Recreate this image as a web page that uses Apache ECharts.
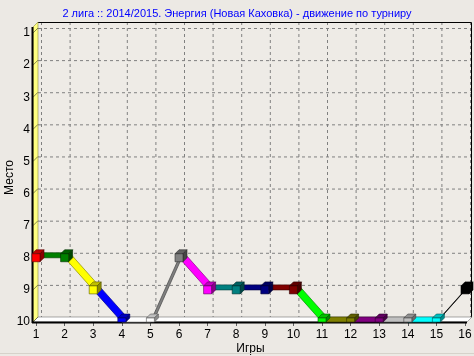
<!DOCTYPE html>
<html>
<head>
<meta charset="utf-8">
<script src="https://cdn.jsdelivr.net/npm/echarts@6/dist/echarts.min.js"></script>
<style>
html,body{margin:0;padding:0;background:#ECE9E4;}
#c{width:474px;height:356px;}
</style>
</head>
<body>
<div id="c"></div>
<script>
// ---- data ----
const games = [1,2,3,4,5,6,7,8,9,10,11,12,13,14,15,16];
const places = [8,8,9,10,10,8,9,9,9,9,10,10,10,10,10,9];
const yTicks = [1,2,3,4,5,6,7,8,9,10];
const pointColors = ['#FF0000','#008000','#FFFF00','#0000FF','#FFFFFF','#808080','#FF00FF','#008080',
                     '#000080','#800000','#00FF00','#808000','#800080','#C0C0C0','#00FFFF','#000000'];
const titleText = '2 лига :: 2014/2015. Энергия (Новая Каховка) - движение по турниру';

// ---- helpers ----
const D = [5,-5];   // 3D depth offset
function darken(hex, f){
  const n = parseInt(hex.slice(1),16);
  const r = Math.round(((n>>16)&255)*f), g = Math.round(((n>>8)&255)*f), b = Math.round((n&255)*f);
  return 'rgb('+r+','+g+','+b+')';
}

const segData = [];
for (let i = 0; i < games.length-1; i++) {
  segData.push([games[i], places[i], games[i+1], places[i+1], i+1]);
}
const ptData = games.map((g,i)=>[g, places[i], i]);

const chart = echarts.init(document.getElementById('c'), null, {renderer:'canvas'});

const option = {
  backgroundColor: '#ECE9E4',
  animation: false,
  title: {
    text: titleText, left: 'center', top: 3,
    textStyle: {color:'#0000FF', fontSize:11, fontWeight:'normal', fontFamily:'Liberation Sans'}
  },
  grid: {left:36, right:9, top:33, bottom:34, containLabel:false, outerBoundsMode:'none'},
  xAxis: {
    type:'value', min:1, max:16, interval:1,
    name:'Игры', nameLocation:'middle', nameGap:21, nameMoveOverlap:false,
    nameTextStyle:{color:'#000', fontSize:12, fontFamily:'Liberation Sans'},
    axisLine:{show:false},
    axisTick:{show:true, length:4, lineStyle:{color:'#606060'}},
    axisLabel:{color:'#000', fontSize:12, fontFamily:'Liberation Sans', margin:7},
    splitLine:{show:false}
  },
  yAxis: {
    type:'value', min:1, max:10, interval:1, inverse:true,
    name:'Место', nameLocation:'middle', nameGap:20, nameMoveOverlap:false,
    nameTextStyle:{color:'#000', fontSize:12, fontFamily:'Liberation Sans'},
    axisLine:{show:false}, axisTick:{show:false},
    axisLabel:{color:'#000', fontSize:12, fontFamily:'Liberation Sans', margin:6,
      formatter: v => yTicks.indexOf(v) >= 0 ? String(v) : ''},
    splitLine:{show:false}
  },
  series: [
    {
      // walls, floor and back grid (drawn once)
      type:'custom', silent:true, clip:false, z:1,
      data:[[1,1]],
      renderItem: function(params, api){
        const p11 = api.coord([1,1]), p16 = api.coord([16,10]);
        const L = p11[0]-3, R = p16[0]+2, T = p11[1]-6, B = p16[1];
        const dx = D[0], dy = D[1];
        const ch = [];
        // back wall
        ch.push({type:'rect', shape:{x:L+dx, y:T+dy, width:R-L, height:B-T}, style:{fill:'#EEEBE6'}});
        // dashed grid on back wall
        games.forEach(g=>{
          const x = api.coord([g,1])[0]+dx;
          ch.push({type:'line', shape:{x1:x+0.5,y1:T+dy,x2:x+0.5,y2:B+dy},
            style:{stroke:'#808080', lineWidth:1, lineDash:[3,3]}});
        });
        yTicks.forEach(v=>{
          const y = api.coord([1,v])[1]+dy;
          ch.push({type:'line', shape:{x1:L+dx,y1:y+0.5,x2:R+dx,y2:y+0.5},
            style:{stroke:'#808080', lineWidth:1, lineDash:[3,3]}});
        });
        // back wall border (top, right)
        ch.push({type:'polyline', shape:{points:[[L+dx,T+dy+0.5],[R+dx-0.5,T+dy+0.5],[R+dx-0.5,B+dy]]},
          style:{stroke:'#000', lineWidth:1, fill:null}});
        // left wall (yellow)
        ch.push({type:'polygon', shape:{points:[[L,T],[L+dx,T+dy],[L+dx,B+dy],[L,B]]},
          style:{fill:'#FFFF80', stroke:'#8a8a40', lineWidth:0.6}});
        // floor (white)
        ch.push({type:'polygon', shape:{points:[[L,B],[R,B],[R+dx,B+dy],[L+dx,B+dy]]},
          style:{fill:'#FFFFFF', stroke:'#707070', lineWidth:0.6}});
        // tick marks crossing left wall
        yTicks.forEach(v=>{
          const y = api.coord([1,v])[1];
          ch.push({type:'line', shape:{x1:L,y1:y,x2:L+dx,y2:y+dy}, style:{stroke:'#6a6a40', lineWidth:0.8}});
        });
        // front axis lines
        ch.push({type:'line', shape:{x1:L-0.5,y1:T,x2:L-0.5,y2:B+1}, style:{stroke:'#000', lineWidth:2}});
        ch.push({type:'line', shape:{x1:L-1,y1:B+0.5,x2:R,y2:B+0.5}, style:{stroke:'#000', lineWidth:2}});
        // bottom panel line
        ch.push({type:'line', shape:{x1:0,y1:353.5,x2:474,y2:353.5}, style:{stroke:'#D6D2CA', lineWidth:1}});
        return {type:'group', children:ch};
      }
    },
    {
      // 3D ribbon segments
      type:'custom', clip:false, z:3,
      data: segData,
      renderItem: function(params, api){
        const a = api.coord([api.value(0), api.value(1)]);
        const b = api.coord([api.value(2), api.value(3)]);
        const col = pointColors[api.value(4)];
        return {type:'polygon',
          shape:{points:[a, b, [b[0]+D[0], b[1]+D[1]], [a[0]+D[0], a[1]+D[1]]]},
          style:{fill:col, stroke:darken(col,0.55), lineWidth:0.7}};
      }
    },
    {
      // 3D cube markers
      type:'custom', clip:false, z:4,
      data: ptData,
      renderItem: function(params, api){
        const p = api.coord([api.value(0), api.value(1)]);
        const bottom = api.coord([1,10])[1];
        const col = pointColors[api.value(2)];
        const h = 4, k = 4;
        const x0 = p[0]-h, x1 = p[0]+h, y0 = p[1]-h, y1 = Math.min(p[1]+h, bottom);
        const st = darken(col,0.35);
        return {type:'group', children:[
          {type:'polygon', shape:{points:[[x0,y0],[x1,y0],[x1+k,y0-k],[x0+k,y0-k]]},
            style:{fill:darken(col,0.75), stroke:st, lineWidth:0.6}},
          {type:'polygon', shape:{points:[[x1,y0],[x1+k,y0-k],[x1+k,y1-k],[x1,y1]]},
            style:{fill:darken(col,0.55), stroke:st, lineWidth:0.6}},
          {type:'rect', shape:{x:x0,y:y0,width:x1-x0,height:y1-y0},
            style:{fill:col, stroke:st, lineWidth:0.6}}
        ]};
      }
    }
  ]
};
chart.setOption(option);
</script>
</body>
</html>
